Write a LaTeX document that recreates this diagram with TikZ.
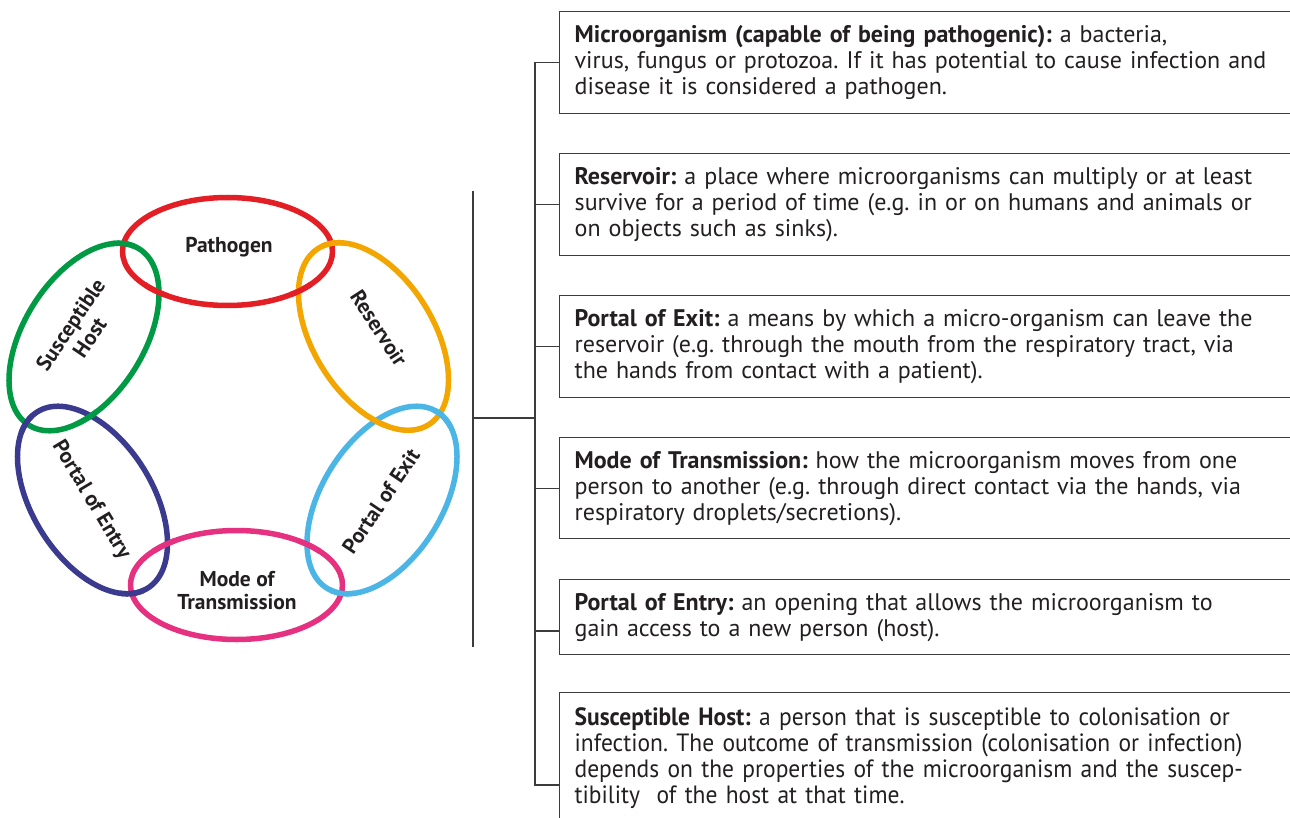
\documentclass[tikz,border=0pt]{standalone}
\usepackage{fontspec}
\setmainfont{PT Sans}
\newfontfamily\narrowfont[FakeStretch=0.94]{PT Sans}
\usetikzlibrary{shapes.geometric,calc}
\definecolor{ringred}{HTML}{E31E24}
\definecolor{ringorange}{HTML}{F4A600}
\definecolor{ringgreen}{HTML}{009A44}
\definecolor{ringnavy}{HTML}{3A3A8E}
\definecolor{ringsky}{HTML}{4BB6E6}
\definecolor{ringpink}{HTML}{E5317F}
\definecolor{ink}{HTML}{231F20}
\definecolor{linegray}{HTML}{3C3C3B}
\begin{document}
\frenchspacing
\begin{tikzpicture}[x=1pt, y=-1pt]
    % Define styles
    \tikzset{
        ring/.style={draw=#1, line width=5.5pt, ellipse, inner sep=0pt, minimum width=210pt, minimum height=108pt},
        tiltring/.style={ring=#1, minimum width=208pt, minimum height=120pt},
        ringlabel/.style={font=\fontsize{21.5}{23}\selectfont\bfseries, text=ink, align=center, inner sep=0pt},
        infobox/.style={draw=linegray, line width=1.3pt, anchor=north west, text width=760pt, inner xsep=15pt, inner ysep=0pt, align=left, font=\fontsize{24}{26}\selectfont, text=ink},
        bracket/.style={draw=linegray, line width=1.3pt}
    }
    \useasboundingbox (0,0) rectangle (1290,818);

    % Chain of infection
    \node[ring=ringred] (pathogen) at (227.5,251.5) {};
    \node[tiltring=ringorange, rotate=-58] (reservoir) at (373.5,336.5) {};
    \node[tiltring=ringsky, rotate=58] (exit) at (382,500) {};
    \node[ring=ringpink, minimum width=212pt, minimum height=109pt] (mode) at (236.5,585) {};
    \node[tiltring=ringnavy, rotate=-58] (entry) at (92.5,500) {};
    \node[tiltring=ringgreen, rotate=58] (host) at (84,337) {};

    % Links over and under (tilted rings)
    \foreach \col/\ang/\cx/\cy/\px/\py [count=\i] in {
        ringgreen/58/84/337/123/245,
        ringorange/-58/373.5/336.5/333/246,
        ringnavy/-58/92.5/500/22/421, ringgreen/58/84/337/85/415,
        ringsky/58/382/500/443/418, ringorange/-58/373.5/336.5/381/416,
        ringnavy/-58/92.5/500/132/591,
        ringsky/58/382/500/342/590}
    {
        \begin{scope}
            \clip (\px,\py) circle (12);
            \node[tiltring=\col, rotate=\ang] (patch-\i) at (\cx,\cy) {};
        \end{scope}
    }
    % and the flat ones
    \foreach \col/\wd/\ht/\cx/\cy/\px/\py [count=\i] in {
        ringred/210/108/227.5/251.5/156/288, ringred/210/108/227.5/251.5/300/288,
        ringpink/212/109/236.5/585/164/546, ringpink/212/109/236.5/585/309/547}
    {
        \begin{scope}
            \clip (\px,\py) circle (12);
            \node[ring=\col, minimum width=\wd pt, minimum height=\ht pt] (flat-\i) at (\cx,\cy) {};
        \end{scope}
    }

    % Ring labels
    \node[ringlabel] (pathogen-label) at (229,247) {Pathogen};
    \node[ringlabel, rotate=-57] (reservoir-label) at (379,328) {Reservoir};
    \node[ringlabel, rotate=56] (exit-label) at (381,501) {Portal of Exit};
    \node[ringlabel] (mode-label) at (237,591) {Mode of\\Transmission};
    \node[ringlabel, rotate=-59] (entry-label) at (91,500) {Portal of Entry};
    \node[ringlabel, rotate=56] (host-label) at (80,331) {Susceptible\\Host};

    % Explanations
    \node[infobox, minimum height=102pt] (micro-box) at (559,11) {\textbf{Microorganism (capable of being pathogenic):} a bacteria,\\virus, fungus or protozoa. If it has potential to cause infection and\\disease it is considered a pathogen.};
    \node[infobox, minimum height=102pt] (reservoir-box) at (559,153) {\textbf{Reservoir:} a place where microorganisms can multiply or at least\\survive for a period of time (e.g. in or on humans and animals or\\on objects such as sinks).};
    \node[infobox, minimum height=102pt] (exit-box) at (559,295) {\textbf{Portal of Exit:} a means by which a micro-organism can leave the\\reservoir (e.g. through the mouth from the respiratory tract, via\\the hands from contact with a patient).};
    \node[infobox, minimum height=101pt] (mode-box) at (559,437) {\textbf{Mode of Transmission:} how the microorganism moves from one\\person to another (e.g. through direct contact via the hands, via\\respiratory droplets/secretions).};
    \node[infobox, minimum height=75pt] (entry-box) at (559,579) {\textbf{Portal of Entry:} an opening that allows the microorganism to\\gain access to a new person (host).};
    \node[infobox, minimum height=130pt, font=\fontsize{25}{26}\selectfont\narrowfont] (host-box) at (559,692) {\textbf{Susceptible Host:} a person that is susceptible to colonisation or\\infection. The outcome of transmission (colonisation or infection)\\depends on the properties of the microorganism and the suscep-\\tibility\ \ of the host at that time.};

    % Brackets
    \coordinate (entry-tick) at ($(entry-box.north west)+(0,52)$);
    \coordinate (host-tick) at ($(host-box.north west)+(0,93)$);
    \draw[bracket] (micro-box.west) -- ++(-24,0) coordinate (spine-top) |- (host-tick);
    \foreach \b in {reservoir-box, exit-box, mode-box}
        \draw[bracket] (\b.west) -- (\b.west -| spine-top);
    \draw[bracket] (entry-tick) -- (entry-tick -| spine-top);

    \coordinate (bar-top) at (473,191);
    \coordinate (bar-mid) at (473,418);
    \coordinate (bar-bot) at (473,647);
    \draw[bracket] (bar-top) -- (bar-bot);
    \draw[bracket] (bar-mid) -- (bar-mid -| spine-top);
\end{tikzpicture}
\end{document}
